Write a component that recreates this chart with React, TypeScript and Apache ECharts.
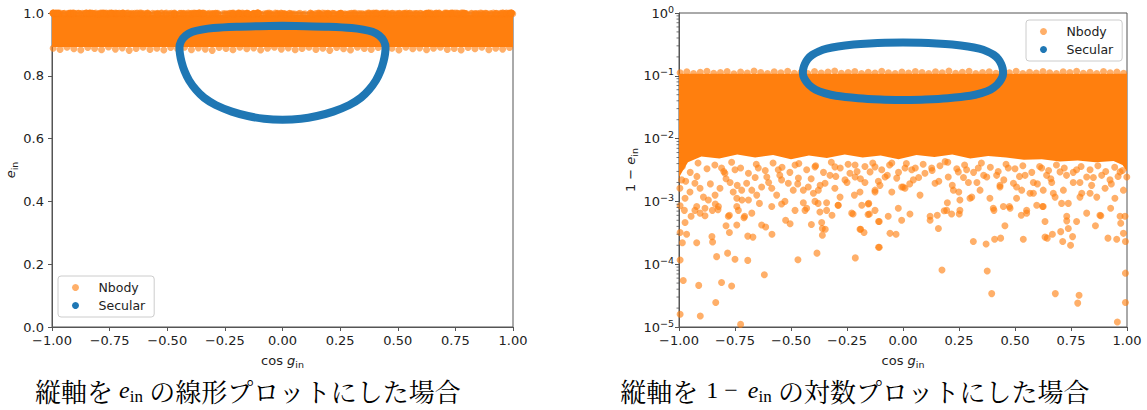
import React, { useEffect, useRef } from "react";
import * as echarts from "echarts";

const ORANGE = "#ff7f0e";
const ORANGE_PT = "rgba(255,127,14,0.78)";
const BLUE = "#1f77b4";
const FONT = "DejaVu Sans";

// Secular trajectory: cos g_in and e_in (closed loop)
const secularCos = [0, 0.1, 0.2, 0.3, 0.35, 0.39, 0.42, 0.44, 0.447, 0.445, 0.438, 0.425, 0.405, 0.375, 0.34, 0.29, 0.22, 0.15, 0.08, 0, -0.08, -0.15, -0.22, -0.29, -0.34, -0.375, -0.405, -0.425, -0.438, -0.445, -0.447, -0.44, -0.42, -0.39, -0.35, -0.3, -0.2, -0.1, 0];
const secularE = [0.959, 0.958, 0.956, 0.952, 0.947, 0.94, 0.928, 0.91, 0.89, 0.87, 0.845, 0.815, 0.785, 0.755, 0.73, 0.707, 0.686, 0.672, 0.663, 0.66, 0.663, 0.672, 0.686, 0.707, 0.73, 0.755, 0.785, 0.815, 0.845, 0.87, 0.89, 0.91, 0.928, 0.94, 0.947, 0.952, 0.956, 0.958, 0.959];

// Nbody: region densely covered by points (1 - e_in between denseTop and denseLow)
const denseTop = 0.108;
const denseCos = [-1, -0.985, -0.96, -0.9, -0.82, -0.74, -0.66, -0.58, -0.5, -0.42, -0.34, -0.26, -0.18, -0.1, -0.02, 0.06, 0.14, 0.22, 0.3, 0.38, 0.46, 0.54, 0.62, 0.7, 0.78, 0.86, 0.94, 0.98, 1];
const denseLow = [0.0024, 0.003, 0.0042, 0.0052, 0.0048, 0.0056, 0.005, 0.0055, 0.0047, 0.0054, 0.0049, 0.0056, 0.005, 0.0054, 0.0047, 0.0055, 0.0051, 0.0056, 0.0048, 0.0053, 0.005, 0.0046, 0.0047, 0.0043, 0.0045, 0.0042, 0.0044, 0.0038, 0.003];

// Nbody individual points: [cos g_in, 1 - e_in]
const nbodyRim: [number, number][] = [
  [-0.995, 0.112], [-0.965, 0.116], [-0.935, 0.109], [-0.905, 0.114], [-0.875, 0.118], [-0.845, 0.11], [-0.815, 0.113], [-0.785, 0.117], [-0.755, 0.108], [-0.725, 0.115],
  [-0.695, 0.111], [-0.665, 0.119], [-0.635, 0.113], [-0.605, 0.109], [-0.575, 0.116], [-0.545, 0.112], [-0.515, 0.118], [-0.485, 0.11], [-0.455, 0.114], [-0.425, 0.109],
  [-0.395, 0.117], [-0.365, 0.111], [-0.335, 0.115], [-0.305, 0.119], [-0.275, 0.11], [-0.245, 0.113], [-0.215, 0.117], [-0.185, 0.109], [-0.155, 0.114], [-0.125, 0.111],
  [-0.095, 0.118], [-0.065, 0.112], [-0.035, 0.109], [-0.005, 0.115], [0.025, 0.111], [0.055, 0.117], [0.085, 0.113], [0.115, 0.109], [0.145, 0.116], [0.175, 0.112],
  [0.205, 0.119], [0.235, 0.11], [0.265, 0.114], [0.295, 0.118], [0.325, 0.109], [0.355, 0.113], [0.385, 0.116], [0.415, 0.11], [0.445, 0.115], [0.475, 0.112],
  [0.505, 0.118], [0.535, 0.109], [0.565, 0.114], [0.595, 0.111], [0.625, 0.117], [0.655, 0.112], [0.685, 0.109], [0.715, 0.116], [0.745, 0.113], [0.775, 0.118],
  [0.805, 0.11], [0.835, 0.114], [0.865, 0.109], [0.895, 0.117], [0.925, 0.112], [0.955, 0.115], [0.985, 0.11],
];
const nbodyEdge: [number, number][] = [
  [-0.985, 0.0036], [-0.95, 0.0029], [-0.915, 0.0041], [-0.875, 0.0033], [-0.84, 0.0038], [-0.8, 0.003], [-0.765, 0.0042], [-0.725, 0.0034], [-0.69, 0.0028], [-0.655, 0.0039],
  [-0.615, 0.0031], [-0.58, 0.0041], [-0.54, 0.0035], [-0.505, 0.0029], [-0.465, 0.004], [-0.43, 0.0032], [-0.39, 0.0037], [-0.355, 0.0029], [-0.32, 0.0042], [-0.28, 0.0034],
  [-0.245, 0.0039], [-0.205, 0.003], [-0.17, 0.0036], [-0.135, 0.0041], [-0.095, 0.0032], [-0.06, 0.0038], [-0.02, 0.0029], [0.015, 0.004], [0.055, 0.0034], [0.09, 0.0039],
  [0.13, 0.0031], [0.165, 0.0037], [0.2, 0.0042], [0.24, 0.0033], [0.275, 0.0038], [0.315, 0.0029], [0.35, 0.0041], [0.39, 0.0035], [0.425, 0.003], [0.46, 0.0039],
  [0.5, 0.0033], [0.535, 0.0037], [0.575, 0.0029], [0.61, 0.0036], [0.65, 0.0031], [0.685, 0.0038], [0.72, 0.0034], [0.76, 0.0029], [0.795, 0.0036], [0.835, 0.0032],
  [0.87, 0.0037], [0.905, 0.003], [0.945, 0.0035], [0.98, 0.0031],
  [-0.97, 0.0021], [-0.92, 0.0025], [-0.86, 0.0019], [-0.79, 0.0023], [-0.74, 0.0018], [-0.66, 0.0024], [-0.6, 0.002], [-0.55, 0.0026], [-0.47, 0.0019], [-0.41, 0.0023],
  [-0.37, 0.0018], [-0.3, 0.0025], [-0.25, 0.002], [-0.19, 0.0023], [-0.11, 0.0021], [-0.07, 0.0026], [0.03, 0.0019], [0.07, 0.0024], [0.16, 0.0021], [0.22, 0.0018],
  [0.27, 0.0024], [0.33, 0.002], [0.36, 0.0026], [0.45, 0.0022], [0.52, 0.0025], [0.6, 0.0019], [0.66, 0.0023], [0.73, 0.0026], [0.79, 0.002], [0.85, 0.0024], [0.93, 0.0019], [0.96, 0.0025],
];
const nbodyMid: [number, number][] = [
  [-0.988, 0.0022], [-0.996, 0.00162], [-0.973, 0.00112], [-0.951, 0.00141], [-0.929, 0.00195], [-0.906, 0.00162], [-0.891, 0.00117], [-0.869, 0.00105], [-0.839, 0.00126], [-0.817, 0.00162],
  [-0.795, 0.0028], [-0.772, 0.002], [-0.758, 0.00141], [-0.742, 0.00112], [-0.72, 0.00151], [-0.698, 0.00195], [-0.675, 0.00151], [-0.653, 0.00126], [-0.631, 0.0017], [-0.608, 0.00245],
  [-0.586, 0.00162], [-0.564, 0.00126], [-0.542, 0.0022], [-0.512, 0.00195], [-0.49, 0.00151], [-0.467, 0.00235], [-0.445, 0.00151], [-0.423, 0.0017], [-0.4, 0.00135], [-0.378, 0.00151],
  [-0.348, 0.00195], [-0.326, 0.0026], [-0.304, 0.00162], [-0.281, 0.00117], [-0.259, 0.0022], [-0.237, 0.0028], [-0.214, 0.00245], [-0.192, 0.00141], [-0.17, 0.002], [-0.147, 0.00295],
  [-0.125, 0.00151], [-0.103, 0.0018], [-0.08, 0.00245], [-0.05, 0.00141], [-0.028, 0.00235], [-0.006, 0.0017],
  [-0.929, 0.00072], [-0.884, 0.00078], [-0.824, 0.00083], [-0.78, 0.00058], [-0.735, 0.00072], [-0.69, 0.00105], [-0.527, 0.001], [-0.482, 0.00072], [-0.43, 0.00078], [-0.393, 0.001],
  [-0.341, 0.00072], [-0.289, 0.00087], [-0.229, 0.00065], [-0.184, 0.00087], [-0.125, 0.00072], [-0.066, 0.00058], [-0.021, 0.00078],
  [-0.81, 0.0034], [-0.75, 0.0032], [-0.646, 0.0034], [-0.557, 0.0032], [-0.482, 0.0038], [-0.393, 0.00355], [-0.304, 0.00355], [-0.214, 0.0038], [-0.125, 0.00355], [-0.05, 0.0041],
  [0.009, 0.0034], [0.039, 0.0032], [0.046, 0.0022], [0.009, 0.00162], [0.098, 0.0028], [0.128, 0.0034], [0.143, 0.00195], [0.188, 0.0043], [0.202, 0.00245], [0.225, 0.00151],
  [0.247, 0.00295], [0.254, 0.00105], [0.284, 0.0032], [0.292, 0.002], [0.307, 0.00117], [0.336, 0.0034], [0.344, 0.00151], [0.374, 0.00245], [0.388, 0.00112], [0.418, 0.0026],
  [0.433, 0.0017], [0.448, 0.00083], [0.47, 0.0034], [0.493, 0.00195], [0.507, 0.00112], [0.53, 0.00151], [0.545, 0.0026], [0.567, 0.00135], [0.582, 0.002], [0.597, 0.00087],
  [0.619, 0.0034], [0.626, 0.00151], [0.641, 0.0026], [0.664, 0.002], [0.679, 0.00117], [0.701, 0.00295], [0.716, 0.00151], [0.738, 0.00093], [0.76, 0.002], [0.775, 0.0032],
  [0.798, 0.00135], [0.82, 0.00245], [0.842, 0.0018], [0.865, 0.00117], [0.887, 0.0026], [0.902, 0.00162], [0.924, 0.0022], [0.946, 0.00112], [0.969, 0.00295], [0.984, 0.00151], [0.999, 0.00245],
  [0.121, 0.00058], [0.195, 0.00072], [0.254, 0.00072], [0.403, 0.00078], [0.478, 0.00078], [0.552, 0.00072], [0.626, 0.00083], [0.731, 0.00058], [0.82, 0.00065], [0.879, 0.0006], [0.969, 0.00058],
];
const nbodySparse: [number, number][] = [
  [-0.995, 0.00032], [-0.973, 0.00046], [-0.966, 0.0003], [-0.985, 0.00022], [-0.921, 0.00022], [-0.995, 0.000117], [-0.981, 0.000055], [-0.912, 0.000046], [-0.995, 0.000016], [-0.905, 0.000015],
  [-0.836, 0.0000245], [-0.81, 0.000051], [-0.765, 0.000045], [-0.725, 0.000011], [-0.832, 0.000132], [-0.783, 0.00015], [-0.75, 0.00012], [-0.693, 0.000115], [-0.619, 0.000068], [-0.853, 0.000275],
  [-0.85, 0.000225], [-0.775, 0.00032], [-0.79, 0.00041], [-0.742, 0.00042], [-0.71, 0.00055], [-0.693, 0.00028], [-0.67, 0.00027], [-0.631, 0.00042], [-0.613, 0.00039], [-0.585, 0.0003],
  [-0.524, 0.0005], [-0.504, 0.00044], [-0.469, 0.000118], [-0.409, 0.00043], [-0.384, 0.00015], [-0.363, 0.00046], [-0.36, 0.00037], [-0.347, 0.00036], [-0.36, 0.00029], [-0.223, 0.00063],
  [-0.213, 0.000126], [-0.189, 0.00036], [-0.174, 0.00032], [-0.156, 0.00062], [-0.109, 0.000186], [-0.109, 0.00048],
  [-0.995, 0.00085], [-0.976, 0.00072], [-0.946, 0.00058], [-0.921, 0.00083], [-0.906, 0.00065], [-0.884, 0.00059], [-0.851, 0.00072], [-0.838, 0.00091], [-0.826, 0.00074], [-0.775, 0.0006],
  [-0.742, 0.00083], [-0.719, 0.00105], [-0.707, 0.00058], [-0.675, 0.00065], [-0.641, 0.00093], [-0.586, 0.00083], [-0.542, 0.00091], [-0.445, 0.00095], [-0.4375, 0.00072], [-0.379, 0.00093],
  [-0.371, 0.00068], [-0.341, 0.00095], [-0.317, 0.0006], [-0.29, 0.00087], [-0.217, 0.00126], [-0.153, 0.00093],
  [-0.106, 0.000186], [-0.058, 0.00031], [-0.031, 0.0003], [-0.106, 0.00048], [-0.006, 0.0005], [0.031, 0.00063], [0.121, 0.0005], [0.158, 0.00037], [0.153, 0.0006], [0.184, 0.00071],
  [0.217, 0.00063], [0.251, 0.00063], [0.174, 0.000081], [0.198, 0.00095], [0.314, 0.00023], [0.371, 0.00021], [0.376, 0.000078], [0.396, 0.000034], [0.409, 0.00025], [0.436, 0.00026],
  [0.455, 0.00041], [0.406, 0.00072], [0.475, 0.00083], [0.537, 0.00025], [0.528, 0.0006], [0.552, 0.00065], [0.623, 0.00083], [0.634, 0.00048], [0.634, 0.00027], [0.644, 0.00026],
  [0.667, 0.0003], [0.68, 0.000034], [0.704, 0.00033], [0.713, 0.00023], [0.731, 0.00049], [0.738, 0.00037], [0.748, 0.0002], [0.757, 0.000275], [0.775, 0.00048], [0.786, 0.000032],
  [0.78, 0.000024], [0.859, 0.00041], [0.883, 0.00059], [0.915, 0.00026], [0.927, 0.00078], [0.954, 0.00025], [0.957, 0.000012], [0.972, 0.00045], [0.984, 0.00031], [0.993, 0.000072],
  [0.993, 0.0000245], [0.993, 0.00023], [0.991, 0.00058], [0.79, 0.00117], [0.835, 0.00135], [0.708, 0.00093], [0.671, 0.00135], [0.582, 0.00135], [0.507, 0.0017], [0.433, 0.0018],
  [0.299, 0.00112], [0.249, 0.00141], [0.076, 0.00126], [0.001, 0.0017], [-0.125, 0.00141], [-0.155, 0.00091], [-0.192, 0.00036], [-0.15, 0.00063],
];
const nbodyPoints: [number, number][] = [...nbodyRim, ...nbodyEdge, ...nbodyMid, ...nbodySparse];

const logMinorTicks: number[] = [];
for (let k = -5; k < 0; k++) for (let m = 2; m <= 9; m++) logMinorTicks.push(m * Math.pow(10, k));

const AXIS_COLOR = "#555";
const TEXT_COLOR = "#222";

const subRich = {
  n: { fontSize: 13, fontFamily: FONT, color: TEXT_COLOR },
  i: { fontSize: 13, fontFamily: FONT, fontStyle: "italic", color: TEXT_COLOR },
  s: { fontSize: 9.5, fontFamily: FONT, color: TEXT_COLOR, lineHeight: 10, padding: [8, 0, 0, 0] },
};

const xFmt = (v: number) => (v < 0 ? "\u2212" : "") + Math.abs(v).toFixed(2);

function makeXAxis(gridIndex: number) {
  return {
    type: "value",
    gridIndex,
    min: -1,
    max: 1,
    interval: 0.25,
    name: "{n|cos }{i|g}{s|in}",
    nameLocation: "middle",
    nameGap: 15,
    nameTextStyle: { rich: subRich },
    axisLine: { show: true, onZero: false, lineStyle: { color: AXIS_COLOR, width: 1 } },
    axisTick: { show: true, length: 4, lineStyle: { color: AXIS_COLOR } },
    axisLabel: { formatter: xFmt, fontSize: 13, lineHeight: 13, fontFamily: FONT, color: TEXT_COLOR, margin: 7 },
    splitLine: { show: false },
  };
}

export default function App() {
  const ref = useRef<HTMLDivElement>(null);
  useEffect(() => {
    if (!ref.current) return;
    const chart = echarts.init(ref.current, null, { renderer: "svg" });

    const secular = secularCos.map((c, i) => [c, secularE[i]]);
    const secularLog = secularCos.map((c, i) => [c, 1 - secularE[i]]);

    const densePolygon = (api: any, toY: (v: number) => number) => {
      const pts: number[][] = [];
      pts.push(api.coord([-1, toY(denseTop)]));
      pts.push(api.coord([1, toY(denseTop)]));
      for (let i = denseCos.length - 1; i >= 0; i--) pts.push(api.coord([denseCos[i], toY(denseLow[i])]));
      return { type: "polygon", shape: { points: pts }, style: { fill: ORANGE } };
    };

    const legendBase = {
      orient: "vertical",
      itemWidth: 36,
      itemHeight: 7,
      itemGap: 5,
      icon: "circle",
      borderColor: "#ccc",
      borderWidth: 1,
      borderRadius: 3,
      backgroundColor: "rgba(255,255,255,0.85)",
      textStyle: { fontSize: 12.5, fontFamily: FONT, color: TEXT_COLOR },
      data: ["Nbody", "Secular"],
      selectedMode: false,
    };

    const capRich = {
      j: { fontSize: 26, fontFamily: "Noto Serif CJK JP, Noto Sans CJK JP", color: "#111", lineHeight: 30 },
      m: { fontSize: 24, fontFamily: "Liberation Serif", fontStyle: "italic", color: "#111", padding: [0, 0, 0, 6] },
      m2: { fontSize: 24, fontFamily: "Liberation Serif", fontStyle: "italic", color: "#111", padding: [0, 0, 0, 4] },
      u: { fontSize: 24, fontFamily: "Liberation Serif", color: "#111", padding: [0, 0, 0, 8] },
      s: { fontSize: 17, fontFamily: "Liberation Serif", color: "#111", lineHeight: 18, padding: [12, 6, 0, 0] },
    };

    const yAxisCommon = {
      nameLocation: "middle",
      nameTextStyle: { rich: subRich },
      axisLine: { show: true, onZero: false, lineStyle: { color: AXIS_COLOR, width: 1 } },
      axisTick: { show: true, length: 4, lineStyle: { color: AXIS_COLOR } },
      splitLine: { show: false },
    };

    chart.setOption({
      animation: false,
      textStyle: { fontFamily: FONT },
      grid: [
        { left: 52, top: 13, width: 461, height: 314, show: true, borderColor: AXIS_COLOR, borderWidth: 1, backgroundColor: "transparent" },
        { left: 679, top: 13, width: 448, height: 314, show: true, borderColor: AXIS_COLOR, borderWidth: 1, backgroundColor: "transparent" },
      ],
      xAxis: [makeXAxis(0), makeXAxis(1)],
      yAxis: [
        {
          ...yAxisCommon,
          type: "value",
          gridIndex: 0,
          min: 0,
          max: 1,
          interval: 0.2,
          name: "{i|e}{s|in}",
          nameGap: 31,
          axisLabel: { formatter: (v: number) => v.toFixed(1), fontSize: 13, lineHeight: 10, fontFamily: FONT, color: TEXT_COLOR, margin: 8 },
        },
        {
          ...yAxisCommon,
          type: "log",
          logBase: 10,
          gridIndex: 1,
          min: 1e-5,
          max: 1,
          splitNumber: 5,
          name: "{n|1 \u2212 }{i|e}{s|in}",
          nameGap: 42,
          axisLabel: {
            fontSize: 13,
            fontFamily: FONT,
            color: TEXT_COLOR,
            margin: 5,
            formatter: (v: number) => {
              const e = Math.round(Math.log10(v));
              return `{b|10}{p|${e < 0 ? "\u2212" + -e : e}}`;
            },
            rich: {
              b: { fontSize: 13, fontFamily: FONT, color: TEXT_COLOR, lineHeight: 10 },
              p: { fontSize: 9.5, fontFamily: FONT, color: TEXT_COLOR, lineHeight: 8, padding: [0, 0, 8, 0] },
            },
          },
        },
      ],
      legend: [
        { ...legendBase, left: 58, top: 276, padding: [5, 9, 5, 14] },
        { ...legendBase, left: 1026, top: 20, padding: [5, 9, 5, 14] },
      ],
      series: [
        {
          type: "custom",
          name: "dense-left",
          xAxisIndex: 0,
          yAxisIndex: 0,
          z: 1,
          silent: true,
          data: [[0, 0.95]],
          renderItem: (_p: any, api: any) => densePolygon(api, (v) => 1 - v),
        },
        {
          type: "scatter",
          name: "Nbody",
          xAxisIndex: 0,
          yAxisIndex: 0,
          z: 2,
          clip: true,
          symbolSize: 7,
          itemStyle: { color: ORANGE_PT },
          data: nbodyPoints.map(([c, v]) => [c, 1 - v]),
        },
        {
          type: "line",
          name: "Secular",
          xAxisIndex: 0,
          yAxisIndex: 0,
          z: 3,
          symbol: "none",
          smooth: 0.3,
          lineStyle: { color: BLUE, width: 8, join: "round", cap: "round" },
          itemStyle: { color: BLUE },
          data: secular,
        },
        {
          type: "custom",
          name: "dense-right",
          xAxisIndex: 1,
          yAxisIndex: 1,
          z: 1,
          silent: true,
          data: [[0, 0.05]],
          renderItem: (_p: any, api: any) => densePolygon(api, (v) => v),
        },
        {
          type: "scatter",
          name: "Nbody",
          xAxisIndex: 1,
          yAxisIndex: 1,
          z: 2,
          clip: true,
          symbolSize: 7,
          itemStyle: { color: ORANGE_PT },
          data: nbodyPoints,
        },
        {
          type: "line",
          name: "Secular",
          xAxisIndex: 1,
          yAxisIndex: 1,
          z: 3,
          symbol: "none",
          smooth: 0.3,
          lineStyle: { color: BLUE, width: 8, join: "round", cap: "round" },
          itemStyle: { color: BLUE },
          data: secularLog,
        },
        {
          type: "custom",
          name: "minor-ticks",
          xAxisIndex: 1,
          yAxisIndex: 1,
          z: 5,
          silent: true,
          clip: false,
          data: logMinorTicks.map((v) => [-1, v]),
          renderItem: (_p: any, api: any) => {
            const p = api.coord([api.value(0), api.value(1)]);
            return {
              type: "line",
              shape: { x1: p[0] - 2.5, y1: p[1], x2: p[0], y2: p[1] },
              style: { stroke: AXIS_COLOR, lineWidth: 0.8 },
            };
          },
        },
      ],
      graphic: [
        {
          type: "text",
          x: 248,
          y: 390,
          style: {
            text: "{j|縦軸を}{m|e}{s|in}{j|の線形プロットにした場合}",
            rich: capRich,
            align: "center",
            verticalAlign: "middle",
          },
        },
        {
          type: "text",
          x: 855,
          y: 390,
          style: {
            text: "{j|縦軸を}{u|1 \u2212 }{m2|e}{s|in}{j|の対数プロットにした場合}",
            rich: capRich,
            align: "center",
            verticalAlign: "middle",
          },
        },
      ],
    });
    return () => chart.dispose();
  }, []);
  return <div ref={ref} style={{ position: "absolute", left: 0, top: 0, width: 1147, height: 410, background: "#fff" }} />;
}
